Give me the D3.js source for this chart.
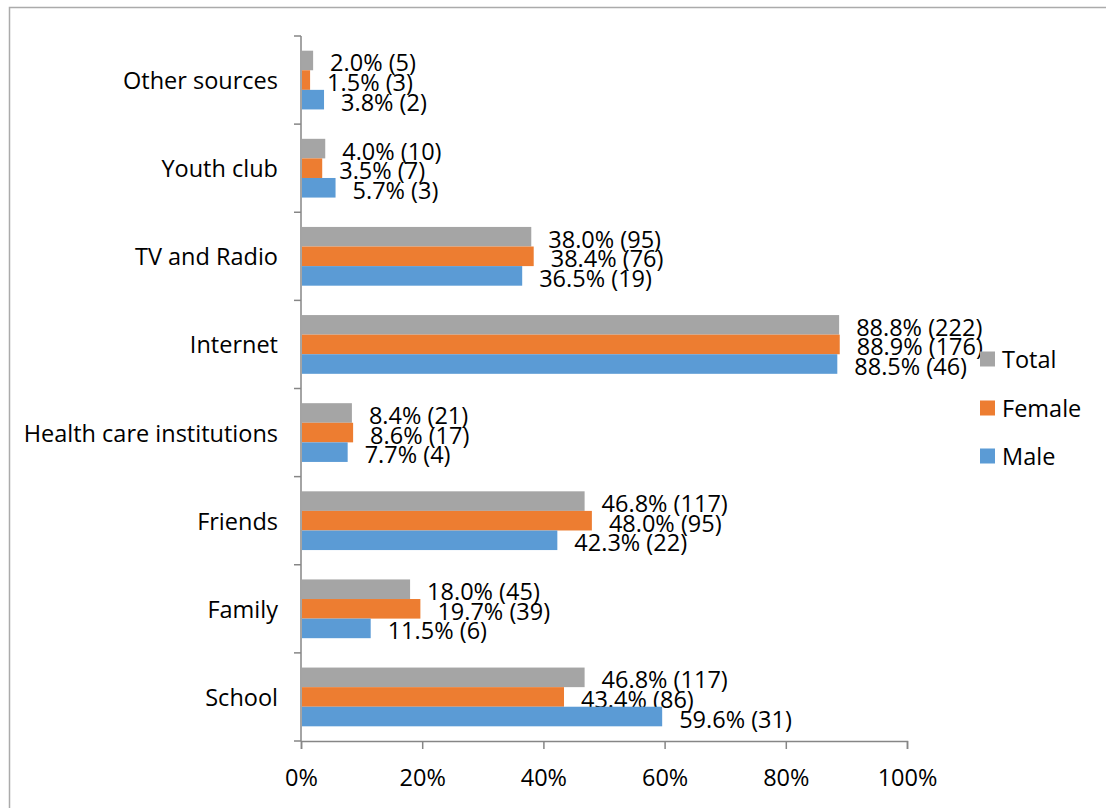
<!DOCTYPE html>
<html>
<head>
<meta charset="utf-8">
<script src="https://cdn.jsdelivr.net/npm/d3@7"></script>
<style>
  body { margin: 0; background: #fff; }
  svg text { font-family: "Open Sans", "Noto Sans", sans-serif; fill: #000; }
</style>
</head>
<body>
<script>
// categories, top to bottom
const categories = ["Other sources", "Youth club", "TV and Radio", "Internet",
  "Health care institutions", "Friends", "Family", "School"];
const seriesNames = ["Total", "Female", "Male"];
const colors = ["#A5A5A5", "#ED7D31", "#5B9BD5"];
// percent values per series, same order as categories
const totalPct = [2.0, 4.0, 38.0, 88.8, 8.4, 46.8, 18.0, 46.8];
const femalePct = [1.5, 3.5, 38.4, 88.9, 8.6, 48.0, 19.7, 43.4];
const malePct = [3.8, 5.7, 36.5, 88.5, 7.7, 42.3, 11.5, 59.6];
// counts per series
const totalN = [5, 10, 95, 222, 21, 117, 45, 117];
const femaleN = [3, 7, 76, 176, 17, 95, 39, 86];
const maleN = [2, 3, 19, 46, 4, 22, 6, 31];
const xTicks = [0, 20, 40, 60, 80, 100];

const pcts = [totalPct, femalePct, malePct];
const counts = [totalN, femaleN, maleN];

const W = 1106, H = 808;
const fs = 23.5;
const svg = d3.select("body").append("svg").attr("width", W).attr("height", H);

// outer chart border
svg.append("rect")
  .attr("x", 9.5).attr("y", 7.5)
  .attr("width", W + 10).attr("height", H + 10)
  .attr("fill", "none").attr("stroke", "#ABABAB").attr("stroke-width", 1.5);

const x = d3.scaleLinear().domain([0, 100]).range([301, 907]);
const y = d3.scaleBand().domain(categories).range([36, 741]).padding(0);
const barH = y.bandwidth() / 4.5;
const sub = d3.scaleBand().domain(seriesNames)
  .range([0.75 * barH, 3.75 * barH]).padding(0);

const axisColor = "#868686";

// x axis
const xAxis = svg.append("g")
  .attr("transform", "translate(0,741)")
  .call(d3.axisBottom(x).tickValues(xTicks).tickSize(8).tickPadding(20)
    .tickFormat(d => d + "%"));
xAxis.select(".domain").attr("stroke", axisColor).attr("stroke-width", 1.5);
xAxis.selectAll(".tick line").attr("stroke", axisColor).attr("stroke-width", 1.5);
xAxis.selectAll("text").attr("font-size", fs).attr("fill", "#000");

// y axis line and boundary ticks
svg.append("line")
  .attr("x1", 301).attr("x2", 301).attr("y1", 36).attr("y2", 741)
  .attr("stroke", axisColor).attr("stroke-width", 1.5);
const bounds = categories.map(c => y(c)).concat([y.range()[1]]);
svg.selectAll(".ytick").data(bounds).enter().append("line")
  .attr("x1", 294).attr("x2", 301)
  .attr("y1", d => d).attr("y2", d => d)
  .attr("stroke", axisColor).attr("stroke-width", 1.5);

// category labels
svg.selectAll(".cat").data(categories).enter().append("text")
  .attr("x", 278)
  .attr("y", d => y(d) + y.bandwidth() / 2)
  .attr("text-anchor", "end")
  .attr("dominant-baseline", "central")
  .attr("font-size", fs)
  .text(d => d);

// bars
seriesNames.forEach((s, si) => {
  const rows = categories.map((c, i) => ({ c: c, v: pcts[si][i], n: counts[si][i] }));
  const g = svg.append("g");
  g.selectAll("rect").data(rows).enter().append("rect")
    .attr("x", x(0) + 1)
    .attr("y", d => y(d.c) + sub(s))
    .attr("width", d => x(d.v) - x(0) - 1)
    .attr("height", barH)
    .attr("fill", colors[si]);
  g.selectAll("text").data(rows).enter().append("text")
    .attr("x", d => x(d.v) + 17)
    .attr("y", d => y(d.c) + sub(s) + barH / 2 + 2)
    .attr("dominant-baseline", "central")
    .attr("font-size", fs)
    .text(d => d.v.toFixed(1) + "% (" + d.n + ")");
});

// legend
const legY = [359, 408, 456];
seriesNames.forEach((s, si) => {
  svg.append("rect")
    .attr("x", 980).attr("y", legY[si] - 7.5)
    .attr("width", 15).attr("height", 15)
    .attr("fill", colors[si]);
  svg.append("text")
    .attr("x", 1002).attr("y", legY[si])
    .attr("dominant-baseline", "central")
    .attr("font-size", fs)
    .text(s);
});
</script>
</body>
</html>
